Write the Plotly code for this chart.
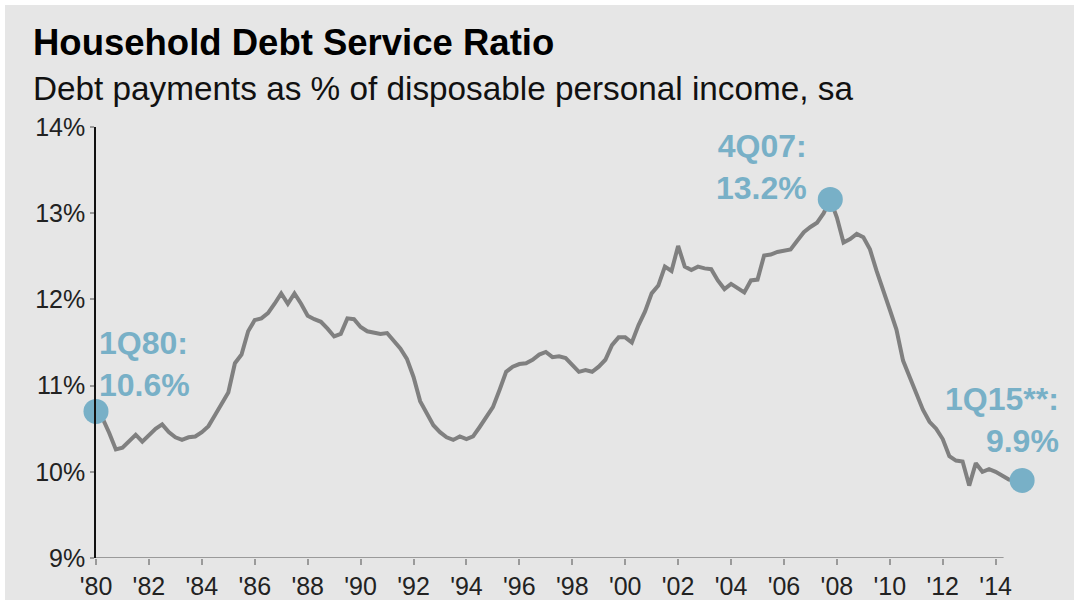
import plotly.graph_objects as go

# Quarterly household debt service ratio, 1Q80 .. 1Q15 (percent)
start_year = 1980
dsr = [
    10.70, 10.62, 10.45, 10.26, 10.28, 10.35, 10.43, 10.35, 10.42, 10.50,
    10.55, 10.46, 10.40, 10.37, 10.40, 10.41, 10.46, 10.53, 10.66, 10.78,
    10.92, 11.26, 11.36, 11.63, 11.76, 11.78, 11.84, 11.95, 12.07, 11.95,
    12.07, 11.95, 11.81, 11.77, 11.74, 11.66, 11.57, 11.60, 11.78, 11.77,
    11.68, 11.63, 11.61, 11.60, 11.61, 11.52, 11.43, 11.31, 11.10, 10.82,
    10.68, 10.54, 10.46, 10.40, 10.37, 10.41, 10.38, 10.41, 10.52, 10.63,
    10.75, 10.95, 11.16, 11.22, 11.25, 11.26, 11.30, 11.36, 11.39, 11.33,
    11.34, 11.32, 11.24, 11.16, 11.18, 11.16, 11.22, 11.30, 11.47, 11.56,
    11.56, 11.50, 11.70, 11.86, 12.07, 12.16, 12.38, 12.33, 12.62, 12.38,
    12.34, 12.38, 12.36, 12.35, 12.22, 12.12, 12.18, 12.13, 12.08, 12.22,
    12.23, 12.51, 12.52, 12.55, 12.57, 12.58, 12.68, 12.78, 12.84, 12.89,
    13.00, 13.16, 12.95, 12.66, 12.70, 12.76, 12.72, 12.58, 12.33, 12.12,
    11.88, 11.65, 11.29, 11.10, 10.92, 10.72, 10.58, 10.50, 10.38, 10.18,
    10.13, 10.12, 9.84, 10.10, 10.00, 10.03, 10.00, 9.95, 9.91, 9.90,
    9.90,
]
quarters = [start_year + i / 4 for i in range(len(dsr))]

# highlighted points: index into series, label
hl_idx = [0, 111, 140]
hl_text = ["1Q80:<br>10.6%", "4Q07:<br>13.2%", "1Q15**:<br>9.9%"]

x_tickvals = list(range(1980, 2015, 2))
x_ticktext = ["'" + str(v)[2:] for v in x_tickvals]
y_tickvals = [9, 10, 11, 12, 13, 14]
y_ticktext = [f"{v}%" for v in y_tickvals]

FONT = "Liberation Sans, Arial, sans-serif"
BG = "#e6e6e6"
LINE = "#808080"
DOT = "#78b0c7"

W, H = 1074, 600
ML, MR, MT, MB = 96, 36, 127, 42
PW, PH = W - ML - MR, H - MT - MB


def px(xpix):
    return (xpix - ML) / PW


def py(ypix):
    return (H - MB - ypix) / PH


fig = go.Figure()
fig.add_trace(go.Scatter(x=quarters, y=dsr, mode="lines",
                         line=dict(color=LINE, width=4), hoverinfo="skip"))
fig.add_trace(go.Scatter(x=[quarters[i] for i in hl_idx], y=[dsr[i] for i in hl_idx],
                         mode="markers", marker=dict(color=DOT, size=25),
                         cliponaxis=False, hoverinfo="skip"))

ann_font = dict(family=FONT, size=32, color=DOT, weight="bold")
fig.add_annotation(x=quarters[hl_idx[0]], y=11.25, text=hl_text[0], showarrow=False,
                   xanchor="left", yanchor="middle", align="left", font=ann_font, xshift=1)
fig.add_annotation(x=quarters[hl_idx[1]], y=13.54, text=hl_text[1], showarrow=False,
                   xanchor="right", yanchor="middle", align="right", font=ann_font, xshift=-21)
fig.add_annotation(x=quarters[hl_idx[2]], y=10.60, text=hl_text[2], showarrow=False,
                   xanchor="right", yanchor="middle", align="right", font=ann_font, xshift=39)

fig.add_annotation(xref="paper", yref="paper", x=px(31), y=py(20), xanchor="left", yanchor="top",
                   text="<b>Household Debt Service Ratio</b>", showarrow=False,
                   font=dict(family=FONT, size=36.5, color="#000000"))
fig.add_annotation(xref="paper", yref="paper", x=px(31), y=py(68), xanchor="left", yanchor="top",
                   text="Debt payments as % of disposable personal income, sa", showarrow=False,
                   font=dict(family=FONT, size=33.3, color="#111111"))

# background panel with thin white border at top/left
fig.add_shape(type="rect", xref="paper", yref="paper", x0=px(5), x1=px(W + 5), y0=py(H + 5), y1=py(5),
              fillcolor=BG, line=dict(width=0), layer="below")
# x baseline
fig.add_shape(type="line", xref="x", yref="y", x0=1980, x1=2014.3, y0=9, y1=9,
              line=dict(color="#9a9a9a", width=2), layer="below")

fig.update_layout(
    width=W, height=H, margin=dict(l=ML, r=MR, t=MT, b=MB, autoexpand=False),
    paper_bgcolor="#ffffff", plot_bgcolor="rgba(0,0,0,0)", showlegend=False,
    font=dict(family=FONT, color="#222222"),
)
fig.update_xaxes(range=[1980, 2015.6], tickvals=x_tickvals, ticktext=x_ticktext,
                 showgrid=False, zeroline=False, showline=False, automargin=False,
                 ticks="outside", ticklen=6, tickwidth=1.5, tickcolor="#9a9a9a",
                 tickfont=dict(size=25, color="#222222", family=FONT))
fig.update_yaxes(range=[9, 14], tickvals=y_tickvals, ticktext=y_ticktext,
                 showgrid=False, zeroline=False, showline=True, linecolor="#111111", linewidth=1.5,
                 automargin=False,
                 ticks="outside", ticklen=4, tickwidth=1.5, tickcolor="#9a9a9a",
                 tickfont=dict(size=25, color="#222222", family=FONT))

fig.write_html("out.html", config={"displayModeBar": False},
               post_script="document.body.style.margin='0';document.body.style.overflow='hidden';")
